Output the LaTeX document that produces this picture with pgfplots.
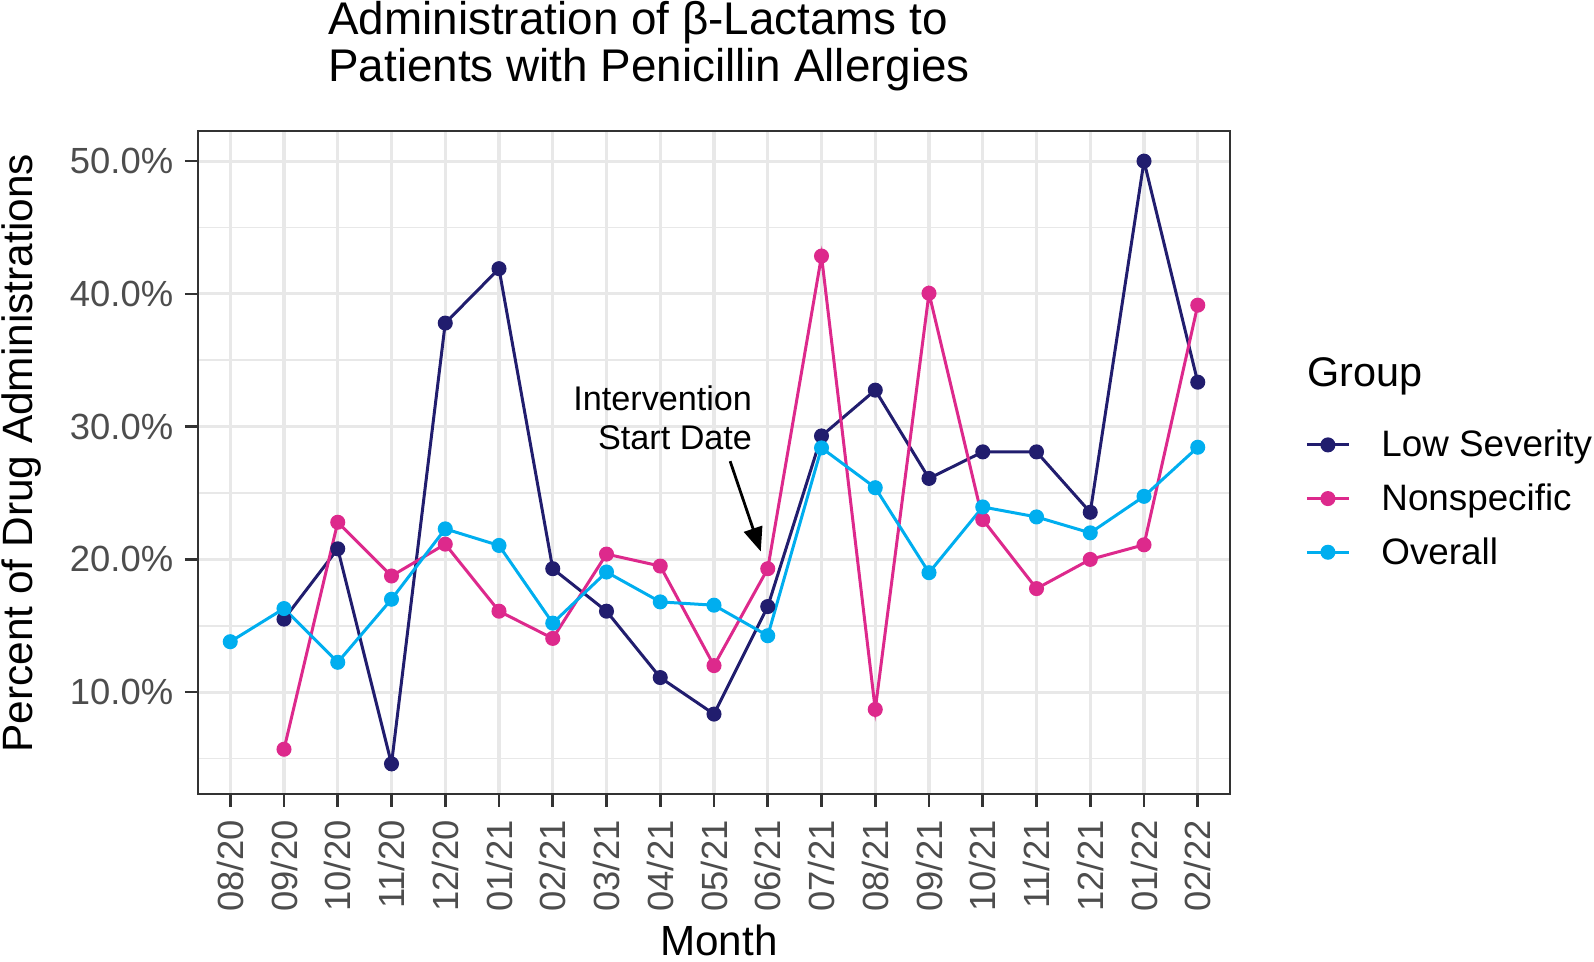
\documentclass[border=0pt]{standalone}
\usepackage{fontspec}
\setmainfont{Liberation Sans}
\usepackage{pgfplots}
\pgfplotsset{compat=1.18}
\usetikzlibrary{arrows.meta}
\definecolor{lowsev}{RGB}{33,29,110}
\definecolor{nonspec}{RGB}{221,41,140}
\definecolor{overall}{RGB}{0,174,239}
\definecolor{gridc}{RGB}{232,232,232}
\definecolor{axc}{RGB}{51,51,51}
\definecolor{tickc}{RGB}{77,77,77}
\begin{document}
\begin{tikzpicture}
\begin{axis}[
  name=ax,
  scale only axis, width=516pt, height=331.5pt,
  xmin=-0.6, xmax=18.6, ymin=2.33, ymax=52.27,
  clip=false,
  xtick={0,...,18},
  xticklabels={08/20,09/20,10/20,11/20,12/20,01/21,02/21,03/21,04/21,05/21,06/21,07/21,08/21,09/21,10/21,11/21,12/21,01/22,02/22},
  ytick={10,20,30,40,50},
  yticklabels={10.0\%,20.0\%,30.0\%,40.0\%,50.0\%},
  minor ytick={5,15,25,35,45},
  xmajorgrids, ymajorgrids, yminorgrids,
  major grid style={line width=1.6pt, gridc},
  minor grid style={line width=0.9pt, gridc},
  axis line style={axc, line width=0.9pt},
  tick align=outside, xtick pos=left, ytick pos=left,
  major tick length=6.5pt, minor tick length=0pt,
  tick style={axc, line width=1.3pt},
  xticklabel style={rotate=90, anchor=east, inner sep=0pt, text=tickc, font=\fontsize{18.2}{21}\selectfont},
  yticklabel style={anchor=east, inner sep=0pt, text=tickc, font=\fontsize{18.2}{21}\selectfont},
  xticklabel shift=6.5pt, yticklabel shift=5.7pt,
  xlabel={Month}, ylabel={Percent of Drug Administrations},
  every axis x label/.style={at={(rel axis cs:0.5,0)}, xshift=2.5pt, yshift=-80.5pt, anchor=base, inner sep=0pt, font=\fontsize{21.1}{24}\selectfont},
  every axis y label/.style={at={(rel axis cs:0,0.5139)}, xshift=-88.4pt, rotate=90, anchor=center, font=\fontsize{21.2}{24}\selectfont},
  legend style={draw=none, fill=none, at={(1.0727,0.5495)}, anchor=north west, inner xsep=0pt, inner ysep=0pt,
    nodes={inner sep=0pt, text depth=0.15em}, row sep=12pt, font=\fontsize{18.4}{22}\selectfont,
    /tikz/every odd column/.append style={column sep=15.5pt}},
  legend cell align=left,
  legend image code/.code={\draw[mark repeat=2,mark phase=2,#1] plot coordinates {(0pt,0pt) (10.5pt,0pt) (21pt,0pt)};},
  every axis plot/.append style={line width=1.5pt, mark=*, mark size=3pt, mark options={solid}},
]
\addplot[lowsev] coordinates {
(1,15.5) (2,20.8) (3,4.6) (4,37.8) (5,41.9) (6,19.3) (7,16.1) (8,11.1) (9,8.35)
(10,16.45) (11,29.3) (12,32.75) (13,26.1) (14,28.1) (15,28.1) (16,23.55) (17,50.0) (18,33.35)};
\addlegendentry{Low Severity}
\addplot[nonspec] coordinates {
(1,5.7) (2,22.8) (3,18.75) (4,21.15) (5,16.1) (6,14.05) (7,20.4) (8,19.5) (9,12.0)
(10,19.3) (11,42.85) (12,8.7) (13,40.05) (14,23.0) (15,17.8) (16,20.0) (17,21.1) (18,39.15)};
\addlegendentry{Nonspecific}
\addplot[overall] coordinates {
(0,13.8) (1,16.3) (2,12.25) (3,17.0) (4,22.3) (5,21.05) (6,15.2) (7,19.05) (8,16.8) (9,16.55)
(10,14.25) (11,28.4) (12,25.4) (13,19.0) (14,23.95) (15,23.2) (16,22.0) (17,24.75) (18,28.45)};
\addlegendentry{Overall}
\draw[black, line width=1.4pt, -{Triangle[length=12pt,width=9.5pt]}] (axis cs:9.3,27.4) -- (axis cs:9.87,20.6);
\node[anchor=base east, inner sep=0pt, font=\fontsize{17.1}{20}\selectfont] at (axis cs:9.715,31.25) {Intervention};
\node[anchor=base east, inner sep=0pt, font=\fontsize{17.1}{20}\selectfont] at (axis cs:9.715,28.25) {Start Date};
\node[anchor=base west, inner sep=0pt, font=\fontsize{22.9}{26}\selectfont] at ([xshift=65pt, yshift=48pt]rel axis cs:0,1) {Administration of β-Lactams to};
\node[anchor=base west, inner sep=0pt, font=\fontsize{22.9}{26}\selectfont] at ([xshift=65pt, yshift=24.65pt]rel axis cs:0,1) {Patients with Penicillin Allergies};
\node[anchor=base west, inner sep=0pt, font=\fontsize{20.7}{24}\selectfont] at (rel axis cs:1.0745,0.6142) {Group};
\end{axis}
\pgfresetboundingbox
\path ([xshift=-99pt,yshift=-84pt]ax.south west) rectangle ([xshift=182pt,yshift=65.5pt]ax.north east);
\end{tikzpicture}
\end{document}
